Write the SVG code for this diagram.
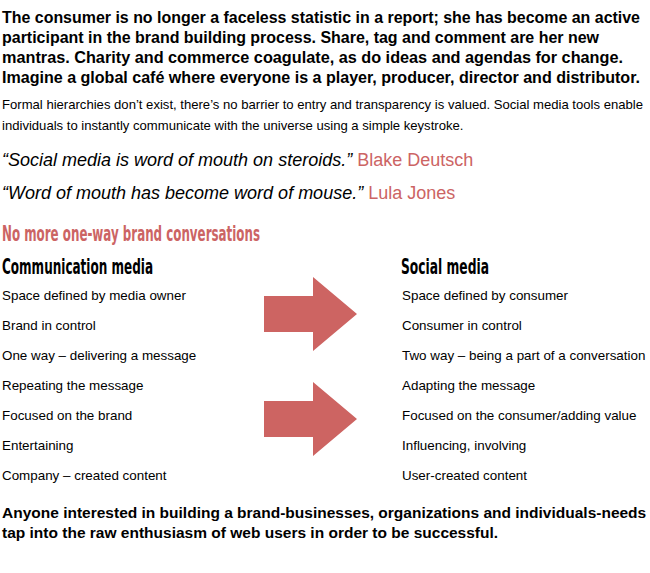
<svg xmlns="http://www.w3.org/2000/svg" width="650" height="573" viewBox="0 0 650 573">
<style>
.b{font-family:"Liberation Sans",Arial,sans-serif;font-weight:bold;font-size:15.5px;fill:#000}
.b16{font-size:16px}
.r{font-family:"Liberation Sans",Arial,sans-serif;font-size:13.4px;fill:#000}
.p{font-size:13.1px}
.q{font-family:"Liberation Sans",Arial,sans-serif;font-size:18px;font-style:italic;fill:#000}
.red{fill:#cc6464;font-style:normal}
.h{font-family:"Liberation Sans Narrow","DejaVu Sans Condensed","DejaVu Sans",sans-serif;font-weight:bold;font-size:21px}
.arrow{fill:#cd6462}
</style>
<rect width="650" height="573" fill="#fff"/>
<g id="intro">
<text class="b b16" x="2" y="23" textLength="638" lengthAdjust="spacingAndGlyphs">The consumer is no longer a faceless statistic in a report; she has become an active</text>
<text class="b b16" x="2" y="43" textLength="597" lengthAdjust="spacingAndGlyphs">participant in the brand building process. Share, tag and comment are her new</text>
<text class="b b16" x="2" y="63" textLength="621" lengthAdjust="spacingAndGlyphs">mantras. Charity and commerce coagulate, as do ideas and agendas for change.</text>
<text class="b b16" x="2" y="83" textLength="638" lengthAdjust="spacingAndGlyphs">Imagine a global café where everyone is a player, producer, director and distributor.</text>
</g>
<g id="para2">
<text class="r p" x="2" y="109" textLength="641" lengthAdjust="spacingAndGlyphs">Formal hierarchies don’t exist, there’s no barrier to entry and transparency is valued. Social media tools enable</text>
<text class="r p" x="2" y="130">individuals to instantly communicate with the universe using a simple keystroke.</text>
</g>
<g id="quotes">
<text class="q" x="2" y="166">“Social media is word of mouth on steroids.” <tspan class="red">Blake Deutsch</tspan></text>
<text class="q" x="2" y="199">“Word of mouth has become word of mouse.” <tspan class="red">Lula Jones</tspan></text>
</g>
<g id="title">
<text class="h" x="2" y="241" fill="#cc6464" textLength="258" lengthAdjust="spacingAndGlyphs">No more one-way brand conversations</text>
</g>
<g id="communication-media">
<text class="h" x="2" y="274" fill="#000" textLength="151" lengthAdjust="spacingAndGlyphs">Communication media</text>
<text class="r" x="2" y="300">Space defined by media owner</text>
<text class="r" x="2" y="330">Brand in control</text>
<text class="r" x="2" y="360">One way – delivering a message</text>
<text class="r" x="2" y="390">Repeating the message</text>
<text class="r" x="2" y="420">Focused on the brand</text>
<text class="r" x="2" y="450">Entertaining</text>
<text class="r" x="2" y="480">Company – created content</text>
</g>
<g id="social-media">
<text class="h" x="401" y="274" fill="#000" textLength="88" lengthAdjust="spacingAndGlyphs">Social media</text>
<text class="r" x="402" y="300">Space defined by consumer</text>
<text class="r" x="402" y="330">Consumer in control</text>
<text class="r" x="402" y="360">Two way – being a part of a conversation</text>
<text class="r" x="402" y="390">Adapting the message</text>
<text class="r" x="402" y="420">Focused on the consumer/adding value</text>
<text class="r" x="402" y="450">Influencing, involving</text>
<text class="r" x="402" y="480">User-created content</text>
</g>
<g id="connectors">
<path class="arrow" d="M264 296 H313 V277 L357 314 L313 351 V332 H264 Z"/>
<path class="arrow" d="M264 401 H313 V382 L357 419 L313 456 V437 H264 Z"/>
</g>
<g id="conclusion">
<text class="b" x="2" y="518">Anyone interested in building a brand-businesses, organizations and individuals-needs</text>
<text class="b" x="2" y="538">tap into the raw enthusiasm of web users in order to be successful.</text>
</g>
</svg>
